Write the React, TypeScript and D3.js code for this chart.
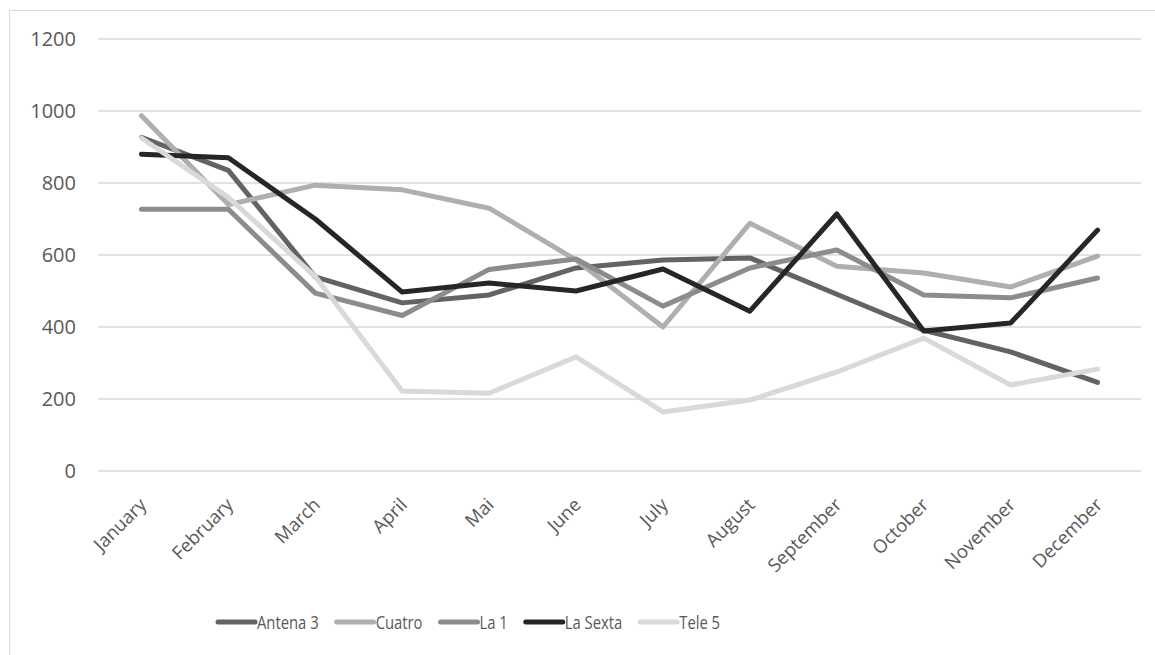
import React, { useEffect, useRef } from "react";
import * as d3 from "d3";

const months = ["January", "February", "March", "April", "Mai", "June", "July", "August", "September", "October", "November", "December"];
const antena3 = [927, 835, 539, 467, 489, 564, 586, 592, 491, 391, 331, 246];
const cuatro = [987, 740, 794, 781, 730, 586, 400, 688, 569, 550, 511, 597];
const la1 = [727, 727, 494, 432, 560, 589, 458, 564, 614, 489, 481, 536];
const laSexta = [880, 870, 700, 497, 522, 500, 561, 444, 714, 389, 411, 669];
const tele5 = [925, 760, 540, 222, 216, 317, 164, 197, 275, 369, 239, 283];
const seriesNames = ["Antena 3", "Cuatro", "La 1", "La Sexta", "Tele 5"];
const seriesValues = [antena3, cuatro, la1, laSexta, tele5];
const seriesColors = ["#636363", "#afafaf", "#8c8c8c", "#262626", "#d9d9d9"];
const yTicks = [0, 200, 400, 600, 800, 1000, 1200];

const W = 1155;
const H = 655;
const FONT = "'Open Sans', 'DejaVu Sans', sans-serif";

export default function App() {
  const ref = useRef<SVGSVGElement>(null);

  useEffect(() => {
    const svg = d3.select(ref.current);
    svg.selectAll("*").remove();

    const x = d3.scaleBand<string>().domain(months).range([98, 1141]).padding(0);
    const cx = (m: string) => (x(m) as number) + x.bandwidth() / 2;
    const y = d3.scaleLinear().domain([0, 1200]).range([471, 39]);

    // chart border
    svg.append("rect")
      .attr("x", 9.5).attr("y", 10.5)
      .attr("width", W + 20).attr("height", H + 20)
      .attr("fill", "#fff").attr("stroke", "#d9d9d9").attr("stroke-width", 1);

    // gridlines
    svg.append("g").selectAll("line").data(yTicks).join("line")
      .attr("x1", 98).attr("x2", 1141)
      .attr("y1", (d) => y(d)).attr("y2", (d) => y(d))
      .attr("stroke", "#d9d9d9").attr("stroke-width", 1.5);

    // y labels
    svg.append("g").selectAll("text").data(yTicks).join("text")
      .attr("x", 76).attr("y", (d) => y(d))
      .attr("dy", "0.36em")
      .attr("text-anchor", "end")
      .attr("font-family", FONT).attr("font-size", 20)
      .attr("fill", "#595959")
      .text((d) => String(d));

    // x labels
    svg.append("g").selectAll("text").data(months).join("text")
      .attr("transform", (m) => `translate(${cx(m) + 6},${506}) rotate(-45)`)
      .attr("text-anchor", "end")
      .attr("font-family", FONT).attr("font-size", 18.5)
      .attr("fill", "#595959")
      .text((m) => m);

    // lines
    const line = d3.line<number>()
      .x((_, i) => cx(months[i]))
      .y((v) => y(v));
    svg.append("g").selectAll("path").data(seriesValues).join("path")
      .attr("d", (vals) => line(vals))
      .attr("fill", "none")
      .attr("stroke", (_, i) => seriesColors[i])
      .attr("stroke-width", 5)
      .attr("stroke-linecap", "round")
      .attr("stroke-linejoin", "round");

    // legend
    const lg = svg.append("g");
    let lx = 218;
    const ly = 622;
    const sx = 0.78;
    seriesNames.forEach((name, i) => {
      lg.append("line")
        .attr("x1", lx).attr("x2", lx + 37)
        .attr("y1", ly).attr("y2", ly)
        .attr("stroke", seriesColors[i]).attr("stroke-width", 5)
        .attr("stroke-linecap", "round");
      const t = lg.append("text")
        .attr("transform", `translate(${lx + 39},${ly}) scale(${sx},1)`)
        .attr("dy", "0.36em")
        .attr("font-family", FONT).attr("font-size", 19)
        .attr("fill", "#595959")
        .text(name);
      const w = (t.node() as SVGTextElement).getComputedTextLength() * sx;
      lx += 39 + w + 18;
    });
  }, []);

  return (
    <svg
      ref={ref}
      width={W}
      height={H}
      style={{ position: "absolute", left: 0, top: 0, background: "#fff" }}
    />
  );
}
